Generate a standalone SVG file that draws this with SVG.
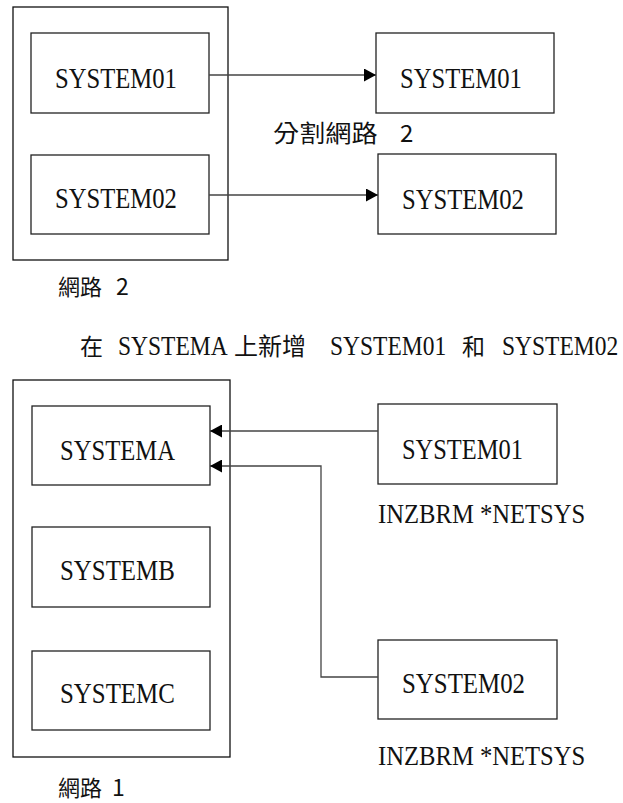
<svg xmlns="http://www.w3.org/2000/svg" width="623" height="803" viewBox="0 0 623 803">
<style>
.outer{fill:none;stroke:#111;stroke-width:1.3}
.box{fill:#fff;stroke:#222;stroke-width:1.3}
.conn{fill:none;stroke:#444;stroke-width:1.3}
</style>
<defs>
<marker id="ah" viewBox="0 0 12 13" refX="12" refY="6.5" markerWidth="12" markerHeight="13" markerUnits="userSpaceOnUse" orient="auto"><path d="M0,0 L12,6.5 L0,13 z" fill="#000"/></marker>
</defs>
<rect width="623" height="803" fill="#fff"/>

<g id="network2">
<rect class="outer" x="13" y="7" width="215" height="253"/>
<text x="58" y="295" style="font-family:'Noto Sans CJK TC',sans-serif;font-size:22px" fill="#111">網路</text>
<text x="116" y="295" style="font-family:'Noto Sans CJK TC',sans-serif;font-size:23px" fill="#111">2</text>
</g>
<g id="n2-system01">
<rect class="box" x="31" y="33" width="178" height="80"/>
<text transform="translate(55,88) scale(0.822,1)" style="font-family:'Liberation Serif',serif;font-size:30px" fill="#111">SYSTEM01</text>
</g>
<g id="n2-system02">
<rect class="box" x="31" y="155" width="178" height="79"/>
<text transform="translate(55,208) scale(0.822,1)" style="font-family:'Liberation Serif',serif;font-size:30px" fill="#111">SYSTEM02</text>
</g>
<g id="split-system01">
<rect class="box" x="376" y="33" width="178" height="80"/>
<text transform="translate(400,88) scale(0.822,1)" style="font-family:'Liberation Serif',serif;font-size:30px" fill="#111">SYSTEM01</text>
</g>
<g id="split-system02">
<rect class="box" x="378" y="154" width="178" height="80"/>
<text transform="translate(402,209) scale(0.822,1)" style="font-family:'Liberation Serif',serif;font-size:30px" fill="#111">SYSTEM02</text>
</g>
<g id="split-label">
<text transform="translate(273,142) scale(1.09,1)" style="font-family:'Noto Sans CJK TC',sans-serif;font-size:24px" fill="#111">分割網路</text>
<text x="400" y="142" style="font-family:'Noto Sans CJK TC',sans-serif;font-size:24px" fill="#111">2</text>
</g>

<g id="title">
<text x="80" y="355" style="font-family:'Noto Sans CJK TC',sans-serif;font-size:23px" fill="#111">在</text>
<text transform="translate(118,355) scale(0.84,1)" style="font-family:'Liberation Serif',serif;font-size:28px" fill="#111">SYSTEMA</text>
<text x="234" y="355" style="font-family:'Noto Sans CJK TC',sans-serif;font-size:24px" fill="#111">上新增</text>
<text transform="translate(330,355) scale(0.84,1)" style="font-family:'Liberation Serif',serif;font-size:28px" fill="#111">SYSTEM01</text>
<text x="462" y="355" style="font-family:'Noto Sans CJK TC',sans-serif;font-size:23px" fill="#111">和</text>
<text transform="translate(502,355) scale(0.84,1)" style="font-family:'Liberation Serif',serif;font-size:28px" fill="#111">SYSTEM02</text>
</g>

<g id="network1">
<rect class="outer" x="13" y="380" width="217" height="377"/>
<text x="58" y="796" style="font-family:'Noto Sans CJK TC',sans-serif;font-size:22px" fill="#111">網路</text>
<text x="112" y="796" style="font-family:'Noto Sans CJK TC',sans-serif;font-size:23px" fill="#111">1</text>
</g>
<g id="systema">
<rect class="box" x="32" y="406" width="178" height="79"/>
<text transform="translate(60,460) scale(0.821,1)" style="font-family:'Liberation Serif',serif;font-size:30px" fill="#111">SYSTEMA</text>
</g>
<g id="systemb">
<rect class="box" x="32" y="527" width="178" height="80"/>
<text transform="translate(60,580) scale(0.83,1)" style="font-family:'Liberation Serif',serif;font-size:30px" fill="#111">SYSTEMB</text>
</g>
<g id="systemc">
<rect class="box" x="32" y="651" width="178" height="79"/>
<text transform="translate(60,703) scale(0.83,1)" style="font-family:'Liberation Serif',serif;font-size:30px" fill="#111">SYSTEMC</text>
</g>
<g id="add-system01">
<rect class="box" x="378" y="404" width="179" height="80"/>
<text transform="translate(402,459) scale(0.815,1)" style="font-family:'Liberation Serif',serif;font-size:30px" fill="#111">SYSTEM01</text>
<text transform="translate(378,523) scale(0.88,1)" style="font-family:'Liberation Serif',serif;font-size:28px" fill="#111">INZBRM *NETSYS</text>
</g>
<g id="add-system02">
<rect class="box" x="378" y="640" width="179" height="79"/>
<text transform="translate(402,693) scale(0.83,1)" style="font-family:'Liberation Serif',serif;font-size:30px" fill="#111">SYSTEM02</text>
<text transform="translate(378,765) scale(0.88,1)" style="font-family:'Liberation Serif',serif;font-size:28px" fill="#111">INZBRM *NETSYS</text>
</g>

<g id="connectors">
<path class="conn" d="M209,75 H376" marker-end="url(#ah)"/>
<path class="conn" d="M209,195 H378" marker-end="url(#ah)"/>
<path class="conn" d="M378,431 H210" marker-end="url(#ah)"/>
<path class="conn" d="M378,677 H321 V466 H210" marker-end="url(#ah)"/>
</g>
</svg>
